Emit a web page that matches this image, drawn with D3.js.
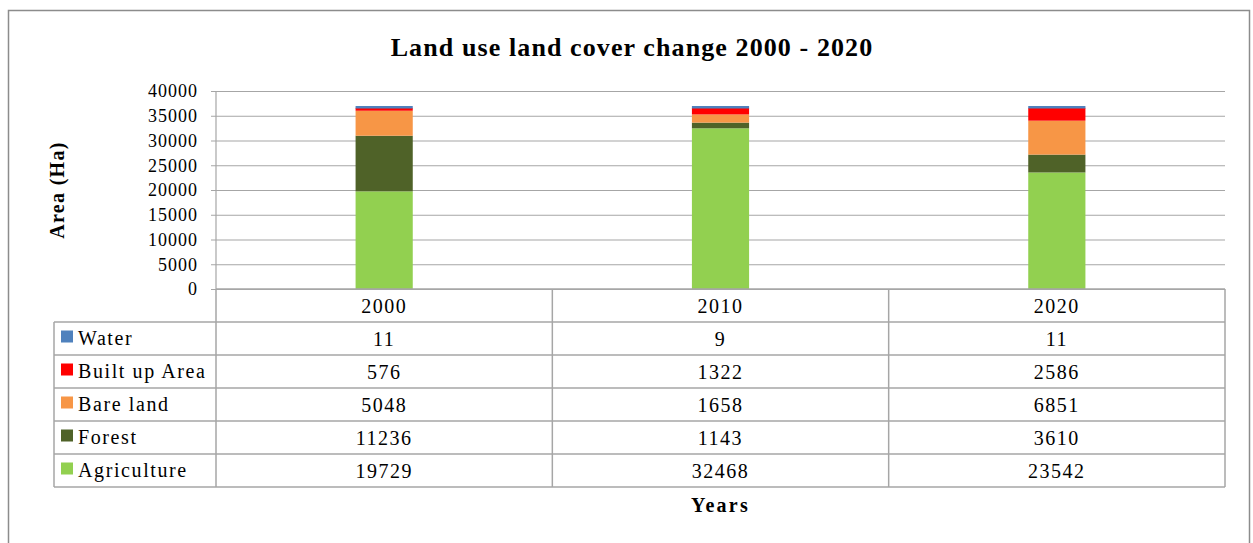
<!DOCTYPE html>
<html lang="en">
<head>
<meta charset="UTF-8">
<title>Land use land cover change 2000 - 2020</title>
<style>
  body { margin: 0; background: #fff; }
  svg text { font-family: "Liberation Serif", "DejaVu Serif", serif; fill: #000; }
</style>
</head>
<body>
<div id="chart"></div>
<script src="https://d3js.org/d3.v7.min.js"></script>
<script>
// data
const years = ["2000", "2010", "2020"];
const classes = ["Agriculture", "Forest", "Bare land", "Built up Area", "Water"];
const agriculture = [19729, 32468, 23542];
const forest = [11236, 1143, 3610];
const bareLand = [5048, 1658, 6851];
const builtUp = [576, 1322, 2586];
const water = [11, 9, 11];
const yTicks = [0, 5000, 10000, 15000, 20000, 25000, 30000, 35000, 40000];
const colors = ["#92d050", "#4f6228", "#f79646", "#ff0000", "#4f81bd"];

const seriesValues = [agriculture, forest, bareLand, builtUp, water];
const rows = years.map((yr, i) => {
  const r = { year: yr };
  classes.forEach((c, k) => r[c] = seriesValues[k][i]);
  return r;
});

const W = 1253, H = 543;
const plot = { left: 216, right: 1225, top: 91, bottom: 289 };
const rowH = 33;

const svg = d3.select("#chart").append("svg")
  .attr("width", W).attr("height", H);

// outer frame
svg.append("rect")
  .attr("x", 8.5).attr("y", 10.5)
  .attr("width", 1241).attr("height", 540)
  .attr("fill", "none").attr("stroke", "#8c8c8c").attr("stroke-width", 1.5);

// title
svg.append("text")
  .attr("x", 632).attr("y", 56)
  .attr("text-anchor", "middle")
  .style("font-size", "26px").style("font-weight", "bold").style("letter-spacing", "1.1px")
  .text("Land use land cover change 2000 - 2020");

const x = d3.scaleBand().domain(years).range([plot.left, plot.right]).padding(0);
const y = d3.scaleLinear().domain([0, 40000]).range([plot.bottom, plot.top]);

// grid + y axis
svg.append("g")
  .attr("transform", `translate(${plot.left},0)`)
  .call(d3.axisLeft(y).tickValues(yTicks).tickSize(-(plot.right - plot.left)).tickPadding(18).tickFormat(d3.format("d")))
  .call(g => g.select(".domain").remove())
  .call(g => g.selectAll(".tick line").attr("stroke", "#a6a6a6").attr("stroke-width", 1.2).attr("x1", -5))
  .call(g => g.selectAll(".tick text")
    .style("font-family", "'Liberation Serif', serif").style("font-size", "18px")
    .style("letter-spacing", "1px").attr("fill", "#000"));

// left axis line
svg.append("line")
  .attr("x1", plot.left).attr("x2", plot.left)
  .attr("y1", plot.top).attr("y2", plot.bottom)
  .attr("stroke", "#a6a6a6").attr("stroke-width", 1.2);

svg.append("text")
  .attr("transform", `translate(64,${(plot.top + plot.bottom) / 2}) rotate(-90)`)
  .attr("text-anchor", "middle")
  .style("font-size", "20px").style("font-weight", "bold").style("letter-spacing", "1.3px")
  .text("Area (Ha)");

// stacked bars
const stack = d3.stack().keys(classes)(rows);
const barW = x.bandwidth() * 0.17;
svg.append("g").selectAll("g")
  .data(stack)
  .join("g")
    .attr("fill", (d, k) => colors[k])
  .selectAll("rect")
  .data(d => d)
  .join("rect")
    .attr("x", d => x(d.data.year) + (x.bandwidth() - barW) / 2)
    .attr("y", d => y(d[1]))
    .attr("width", barW)
    .attr("height", d => y(d[0]) - y(d[1]));

// water is tiny, give it a thin outline so it shows like in the original
svg.append("g").selectAll("line")
  .data(stack[stack.length - 1])
  .join("line")
    .attr("x1", d => x(d.data.year) + (x.bandwidth() - barW) / 2)
    .attr("x2", d => x(d.data.year) + (x.bandwidth() + barW) / 2)
    .attr("y1", d => y(d[1]) - 0.5)
    .attr("y2", d => y(d[1]) - 0.5)
    .attr("stroke", colors[4]).attr("stroke-width", 2.5);

// data table
const tableLeft = 54;
const lineColor = "#a6a6a6";
const tbl = svg.append("g");
const nRows = classes.length;
const tableBottom = plot.bottom + rowH * (nRows + 1);

// horizontal lines
tbl.append("line")
  .attr("x1", plot.left).attr("x2", plot.right)
  .attr("y1", plot.bottom).attr("y2", plot.bottom)
  .attr("stroke", lineColor).attr("stroke-width", 1.5);
d3.range(1, nRows + 2).forEach(i => {
  tbl.append("line")
    .attr("x1", tableLeft).attr("x2", plot.right)
    .attr("y1", plot.bottom + rowH * i).attr("y2", plot.bottom + rowH * i)
    .attr("stroke", lineColor).attr("stroke-width", 1.5);
});
// vertical lines
tbl.append("line")
  .attr("x1", tableLeft).attr("x2", tableLeft)
  .attr("y1", plot.bottom + rowH).attr("y2", tableBottom)
  .attr("stroke", lineColor).attr("stroke-width", 1.5);
years.forEach(yr => {
  tbl.append("line")
    .attr("x1", x(yr)).attr("x2", x(yr))
    .attr("y1", plot.bottom).attr("y2", tableBottom)
    .attr("stroke", lineColor).attr("stroke-width", 1.5);
});
tbl.append("line")
  .attr("x1", plot.right).attr("x2", plot.right)
  .attr("y1", plot.bottom).attr("y2", tableBottom)
  .attr("stroke", lineColor).attr("stroke-width", 1.5);

// header years
tbl.selectAll("text.year")
  .data(years)
  .join("text")
    .attr("class", "year")
    .attr("x", d => x(d) + x.bandwidth() / 2)
    .attr("y", plot.bottom + rowH / 2 + 7)
    .attr("text-anchor", "middle")
    .style("font-size", "20px").style("letter-spacing", "1.5px")
    .text(d => d);

// rows, top-down: Water ... Agriculture
const order = classes.map((c, k) => k).reverse();
order.forEach((k, r) => {
  const cy = plot.bottom + rowH * (r + 1) + rowH / 2;
  tbl.append("rect")
    .attr("x", 61).attr("y", cy - 8)
    .attr("width", 12).attr("height", 12)
    .attr("fill", colors[k]);
  tbl.append("text")
    .attr("x", 78).attr("y", cy + 6)
    .style("font-size", "20px").style("letter-spacing", "1.6px")
    .text(classes[k]);
  years.forEach((yr, i) => {
    tbl.append("text")
      .attr("x", x(yr) + x.bandwidth() / 2)
      .attr("y", cy + 7)
      .attr("text-anchor", "middle")
      .style("font-size", "20px").style("letter-spacing", "1.5px")
      .text(seriesValues[k][i]);
  });
});

// x title
svg.append("text")
  .attr("x", (plot.left + plot.right) / 2).attr("y", 512)
  .attr("text-anchor", "middle")
  .style("font-size", "20px").style("font-weight", "bold").style("letter-spacing", "2.2px")
  .text("Years");
</script>
</body>
</html>
